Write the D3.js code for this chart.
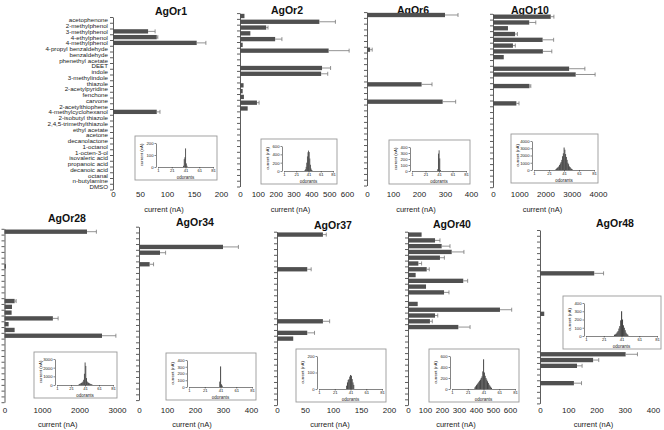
<!DOCTYPE html>
<html><head><meta charset="utf-8">
<script src="https://cdn.jsdelivr.net/npm/d3@7"></script>
<style>
body{margin:0;background:#fff;}
svg{display:block;font-family:Arial,"Liberation Sans",sans-serif;}
</style></head><body>
<svg id="c" width="664" height="430"></svg>
<script>
// ---------- DATA ----------
const categories = ["acetophenone","2-methylphenol","3-methylphenol","4-ethylphenol","4-methylphenol",
  "4-propyl benzaldehyde","benzaldehyde","phenethyl acetate","DEET","indole","3-methylindole","thiazole",
  "2-acetylpyridine","fenchone","carvone","2-acetylthiophene","4-methylcyclohexanol","2-isobutyl thiazole",
  "2,4,5-trimethylthiazole","ethyl acetate","acetone","decanolactone","1-octanol","1-octen-3-ol",
  "isovaleric acid","propanoic acid","decanoic acid","octanal","n-butylamine","DMSO"];
const receptors = ["AgOr1","AgOr2","AgOr6","AgOr10","AgOr28","AgOr34","AgOr37","AgOr40","AgOr48"];

const agOr1    = [0,0,65,81,155,0,0,0,0,0,0,0,0,0,0,0,81,0,0,0,0,0,0,0,0,0,0,0,0,0];
const agOr1Err = [0,0,13,2,17,0,0,0,0,0,0,0,0,0,0,0,6,0,0,0,0,0,0,0,0,0,0,0,0,0];
const agOr2    = [25,445,147,58,197,15,497,0,0,460,455,0,20,15,22,95,43,0,0,0,0,0,0,0,0,0,0,0,0,0];
const agOr2Err = [0,90,10,0,38,0,115,0,0,48,37,0,0,0,0,12,0,0,0,0,0,0,0,0,0,0,0,0,0,0];
const agOr6    = [300,0,0,0,0,0,12,0,0,0,0,0,210,0,0,291,0,0,0,0,0,0,0,0,0,0,0,0,0,0];
const agOr6Err = [50,0,0,0,0,0,8,0,0,0,0,0,40,0,0,50,0,0,0,0,0,0,0,0,0,0,0,0,0,0];
const agOr10    = [2200,1380,570,840,1890,760,1900,410,0,2900,3150,0,1390,0,0,890,20,0,0,0,0,0,0,0,0,0,0,0,0,0];
const agOr10Err = [120,250,0,90,420,90,340,0,0,600,740,0,50,0,0,100,0,0,0,0,0,0,0,0,0,0,0,0,0,0];
const agOr28    = [2200,0,0,0,0,0,40,0,0,0,0,0,270,200,190,1290,110,270,2600,0,0,0,0,0,0,0,0,0,0,0];
const agOr28Err = [250,0,0,0,0,0,0,0,0,0,0,0,40,0,0,140,0,0,370,0,0,0,0,0,0,0,0,0,0,0];
const agOr34    = [0,0,0,300,75,0,38,0,0,0,0,0,0,0,0,0,0,0,0,0,0,0,0,0,0,0,0,0,0,0];
const agOr34Err = [0,0,0,55,20,0,14,0,0,0,0,0,0,0,0,0,0,0,0,0,0,0,0,0,0,0,0,0,0,0];
const agOr37    = [82,0,0,0,0,0,54,0,0,0,0,0,0,0,0,82,0,54,29,0,0,0,0,0,0,0,0,0,0,0];
const agOr37Err = [6,0,0,0,0,0,7,0,0,0,0,0,0,0,0,12,0,13,0,0,0,0,0,0,0,0,0,0,0,0];
const agOr40    = [80,159,198,257,188,61,110,45,325,106,212,0,57,541,159,129,296,0,0,0,0,0,0,0,0,0,0,0,0,0];
const agOr40Err = [0,29,49,72,26,19,15,0,26,0,29,0,0,69,16,14,69,0,0,0,0,0,0,0,0,0,0,0,0,0];
const agOr48    = [0,0,0,0,0,0,0,192,0,0,0,0,0,0,15,0,0,0,0,0,0,303,188,131,0,0,120,0,0,0];
const agOr48Err = [0,0,0,0,0,0,0,33,0,0,0,0,0,0,0,0,0,0,0,0,0,42,20,18,0,0,27,0,0,0];

const axisMax  = [200,600,400,4000,3000,400,200,600,400];
const axisStep = [50,100,100,1000,1000,100,50,100,100];

// tuning curves (inset): first odorant index and sorted responses
const tuneStart = [38,35,39,30,32,40,36,30,33];
const tuneOr1  = [10,65,81,155,30,10];
const tuneOr2  = [20,40,100,200,350,450,490,455,300,150,60,25,10];
const tuneOr6  = [30,290,345,210,15];
const tuneOr10 = [100,200,300,400,500,700,900,1100,1400,1900,2300,3100,2800,2200,1800,1400,1000,800,500,400,250,150,80];
const tuneOr28 = [50,100,150,200,250,300,400,600,1300,2600,2200,800,400,300,250,200,150,100,80,50];
const tuneOr34 = [80,305,40,20];
const tuneOr37 = [20,40,55,60,75,85,80,60,40,25];
const tuneOr40 = [30,50,70,90,110,130,150,170,200,230,320,540,300,240,200,170,140,110,80,60,40,20];
const tuneOr48 = [15,20,30,45,60,90,120,190,300,200,130,100,70,40,25,15];
const insetMax  = [200,600,400,4000,3000,400,200,600,400];
const insetStep = [100,200,100,1000,1000,100,100,200,100];
const odorantTicks = [1,21,41,61,81];

// ---------- LAYOUT ----------
const values = [agOr1,agOr2,agOr6,agOr10,agOr28,agOr34,agOr37,agOr40,agOr48];
const errors = [agOr1Err,agOr2Err,agOr6Err,agOr10Err,agOr28Err,agOr34Err,agOr37Err,agOr40Err,agOr48Err];
const tunes  = [tuneOr1,tuneOr2,tuneOr6,tuneOr10,tuneOr28,tuneOr34,tuneOr37,tuneOr40,tuneOr48];

const layout = [
  {x0:113,x1:221,yTop:17,  yBot:189.5,tx:171,ty:11, tickY:196,labY:209, box:[135,136,82,44]},
  {x0:240,x1:347,yTop:13.1,yBot:186.5,tx:287,ty:10, tickY:196,labY:209, box:[261,139,76,45]},
  {x0:367,x1:471,yTop:12.1,yBot:185.5,tx:413,ty:10, tickY:196,labY:209, box:[389,140,81,44]},
  {x0:493,x1:598,yTop:13.8,yBot:187.2,tx:530,ty:10, tickY:196,labY:209, box:[511,134,87,49]},
  {x0:4.5,x1:117,yTop:228.8,yBot:402.2,tx:67,ty:218, tickY:412,labY:424, box:[34,352,83,46]},
  {x0:139,x1:251,yTop:226.7,yBot:400.1,tx:195,ty:222, tickY:412,labY:424, box:[166,353,90,47]},
  {x0:277,x1:389,yTop:231.7,yBot:405.1,tx:333,ty:225, tickY:412,labY:424, box:[296,349,90,53]},
  {x0:408,x1:510,yTop:231.7,yBot:405.1,tx:452,ty:224, tickY:412,labY:424, box:[429,349,90,53]},
  {x0:540,x1:653,yTop:230,  yBot:403.4,tx:615,ty:223, tickY:412,labY:424, box:[563,296,98,53]}
];

const svg = d3.select("#c");
const barColor = "#505050";
const fmt = d3.format("d");

receptors.forEach((name, p) => {
  const L = layout[p];
  const g = svg.append("g");
  const x = d3.scaleLinear().domain([0, axisMax[p]]).range([L.x0, L.x1]);
  const y = d3.scaleBand().domain(d3.range(categories.length)).range([L.yTop, L.yBot])
              .paddingInner(0.25).paddingOuter(0.125);
  const yEdge = d3.scaleLinear().domain([0, categories.length]).range([L.yTop, L.yBot]);

  // y axis with ticks between categories
  const ya = g.append("g").attr("transform", `translate(${L.x0},0)`)
    .call(d3.axisLeft(yEdge).tickValues(d3.range(categories.length + 1)).tickFormat("").tickSize(3).tickSizeOuter(0));
  ya.selectAll("path,line").attr("stroke", "#333").attr("stroke-width", 0.8);

  // x axis labels (no line)
  const xa = g.append("g").attr("transform", `translate(0,${L.tickY - 5})`)
    .call(d3.axisBottom(x).tickValues(d3.range(0, axisMax[p] + 1, axisStep[p])).tickFormat(fmt).tickSize(0).tickPadding(0));
  xa.select(".domain").remove();
  xa.selectAll("text").attr("font-size", 8).attr("fill", "#222").attr("font-family", "Arial, Liberation Sans, sans-serif");

  g.append("text").attr("x", (L.x0 + L.x1) / 2 - 3).attr("y", L.labY).attr("text-anchor", "middle")
    .attr("dominant-baseline", "central").attr("font-size", 7.5).attr("fill", "#222").text("current (nA)");

  g.append("text").attr("x", L.tx).attr("y", L.ty).attr("text-anchor", "middle")
    .attr("dominant-baseline", "central").attr("font-size", 10.5).attr("font-weight", "bold").attr("fill", "#111").text(name);

  if (p === 0) {
    g.selectAll("text.cat").data(categories).join("text").attr("class", "cat")
      .attr("x", L.x0 - 5).attr("y", (d, i) => y(i) + y.bandwidth() / 2)
      .attr("text-anchor", "end").attr("dominant-baseline", "central")
      .attr("font-size", 6.2).attr("fill", "#222").text(d => d);
  }

  const rows = values[p].map((v, i) => ({i, v, e: errors[p][i]})).filter(d => d.v > 0);
  g.selectAll("rect.bar").data(rows).join("rect").attr("class", "bar")
    .attr("x", x(0)).attr("y", d => y(d.i)).attr("width", d => x(d.v) - x(0)).attr("height", y.bandwidth())
    .attr("fill", barColor);
  const er = rows.filter(d => d.e > 0);
  g.selectAll("line.err").data(er).join("line").attr("class", "err")
    .attr("x1", d => x(d.v)).attr("x2", d => x(d.v + d.e))
    .attr("y1", d => y(d.i) + y.bandwidth() / 2).attr("y2", d => y(d.i) + y.bandwidth() / 2)
    .attr("stroke", "#777").attr("stroke-width", 0.8);
  g.selectAll("line.cap").data(er).join("line").attr("class", "cap")
    .attr("x1", d => x(d.v + d.e)).attr("x2", d => x(d.v + d.e))
    .attr("y1", d => y(d.i) + y.bandwidth() / 2 - 2).attr("y2", d => y(d.i) + y.bandwidth() / 2 + 2)
    .attr("stroke", "#777").attr("stroke-width", 0.8);

  // inset tuning curve
  const [bx, by, bw, bh] = L.box;
  const ig = svg.append("g");
  ig.append("rect").attr("x", bx).attr("y", by).attr("width", bw).attr("height", bh)
    .attr("fill", "#fff").attr("stroke", "#999").attr("stroke-width", 0.9);
  const ix = d3.scaleLinear().domain([1, 81]).range([bx + 23, bx + bw - 4]);
  const iy = d3.scaleLinear().domain([0, insetMax[p]]).range([by + bh - 13, by + 7]);
  const td = tunes[p].map((v, k) => ({o: tuneStart[p] + k, v}));
  ig.selectAll("rect.t").data(td).join("rect").attr("class", "t")
    .attr("x", d => ix(d.o - 0.5)).attr("width", ix(1.5) - ix(0.5) + 0.2)
    .attr("y", d => iy(d.v)).attr("height", d => iy(0) - iy(d.v)).attr("fill", "#444");
  const iya = ig.append("g").attr("transform", `translate(${ix(1) - 2},0)`)
    .call(d3.axisLeft(iy).tickValues(d3.range(0, insetMax[p] + 1, insetStep[p])).tickFormat(fmt).tickSize(1.5).tickPadding(1).tickSizeOuter(0));
  const ixa = ig.append("g").attr("transform", `translate(0,${iy(0)})`)
    .call(d3.axisBottom(ix).tickValues(odorantTicks).tickSize(1.5).tickPadding(0.8).tickSizeOuter(0));
  [iya, ixa].forEach(a => {
    a.selectAll("path,line").attr("stroke", "#333").attr("stroke-width", 0.6);
    a.selectAll("text").attr("font-size", 4.2).attr("fill", "#222").attr("font-family", "Arial, Liberation Sans, sans-serif");
  });
  ig.append("text").attr("transform", `translate(${bx + 6},${(iy(0) + iy(insetMax[p])) / 2}) rotate(-90)`)
    .attr("text-anchor", "middle").attr("dominant-baseline", "central").attr("font-size", 4.3).attr("fill", "#222")
    .text("current (nA)");
  ig.append("text").attr("x", (ix(1) + ix(81)) / 2).attr("y", iy(0) + 10.5).attr("text-anchor", "middle")
    .attr("dominant-baseline", "central").attr("font-size", 4.5).attr("fill", "#222").text("odorants");
});
</script></body></html>
